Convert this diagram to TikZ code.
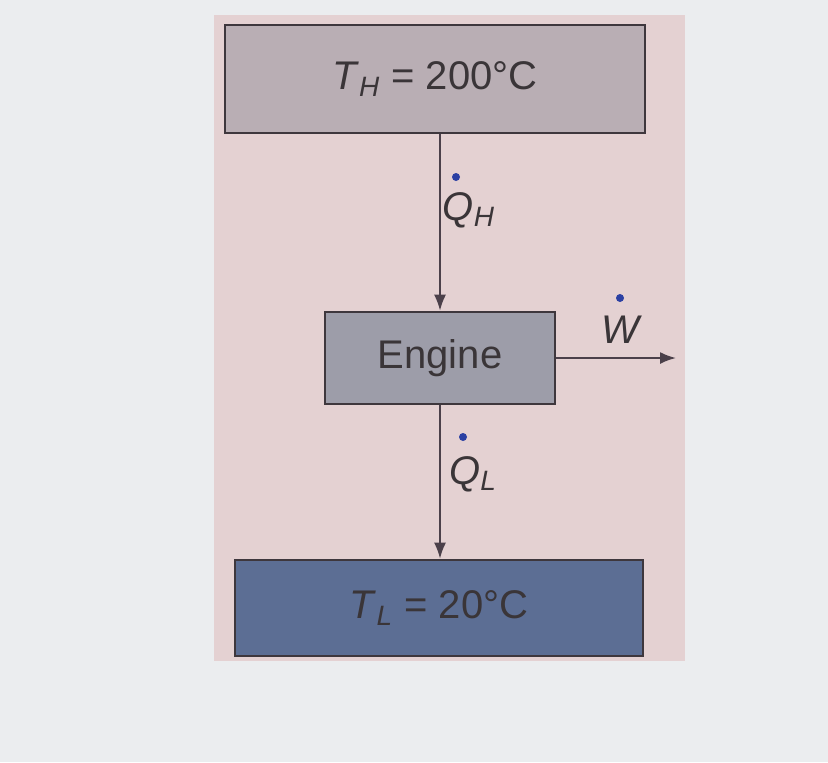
\documentclass[tikz,border=0pt]{standalone}
\usepackage{fontspec}
\setmainfont{Liberation Sans}
\usetikzlibrary{positioning,arrows.meta}

\definecolor{screen}{HTML}{EBEDEF}
\definecolor{panel}{HTML}{E4D1D2}
\definecolor{hotfill}{HTML}{B9AEB4}
\definecolor{enginefill}{HTML}{9D9DA9}
\definecolor{coldfill}{HTML}{5C6E94}
\definecolor{boxline}{HTML}{3E373D}
\definecolor{lineclr}{HTML}{4B404A}
\definecolor{textclr}{HTML}{3A3538}
\definecolor{dotblue}{HTML}{2B40A3}

\begin{document}
\begin{tikzpicture}[x=0.5pt,y=-0.5pt]
        \tikzstyle{every node}=[draw=boxline, line width=1.3pt, text=textclr, font=\fontsize{20}{24}\selectfont]
        \tikzstyle{flow}=[draw=lineclr, line width=1pt, -{Latex[length=8pt,width=6pt]}]
        \tikzstyle{rate}=[draw=none]

        \fill[screen] (0,0) rectangle (828,762);
        \fill[panel] (214,15) rectangle (685,661);

        \node   (hot)    [fill=hotfill, minimum width=210pt, minimum height=54pt] at (435,79) {\textit{T}\textsubscript{\textit{H}} = 200°C};
        \node   (engine) [fill=enginefill, minimum width=115pt, minimum height=46pt] at (440,358) {Engine};
        \node   (cold)   [fill=coldfill, minimum width=204pt, minimum height=48pt] at (439,608) {\textit{T}\textsubscript{\textit{L}} = 20°C};
        \coordinate (wend) at (676,358);

        \node   (qh) [rate] at (469,210) {\textit{Q}\textsubscript{\textit{H}}};
        \node   (ql) [rate] at (473,474) {\textit{Q}\textsubscript{\textit{L}}};
        \node   (w)  [rate] at (622,330) {\textit{W}};

        \path   (hot.south -| engine) edge [flow] (engine.north)
                (engine.south) edge [flow] (cold.north -| engine)
                (engine.east) edge [flow] (wend);

        \fill[dotblue] (456,177) circle[radius=4]
                       (463,437) circle[radius=4]
                       (620,298) circle[radius=4];

    \end{tikzpicture}
\end{document}
